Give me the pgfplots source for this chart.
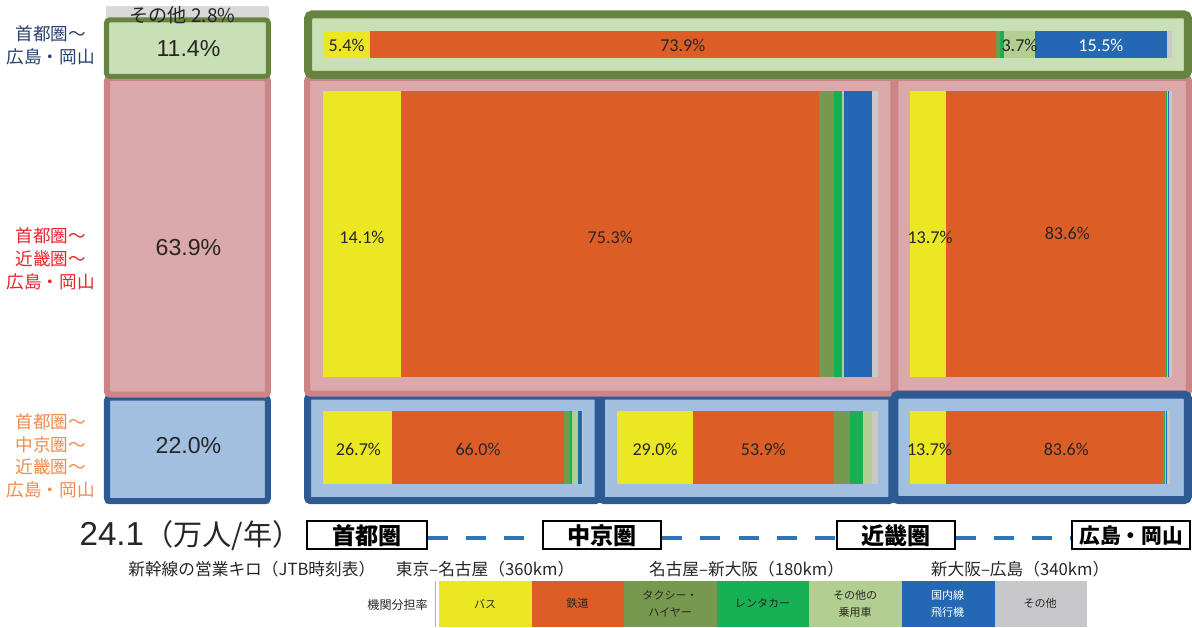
\documentclass[border=0pt]{standalone}
\usepackage{pgfplots}
\pgfplotsset{compat=1.18}
\usepackage{fontspec}
\setmainfont{Liberation Sans}
\newfontfamily\cjk{Noto Sans CJK JP}
\newfontfamily\carl{Carlito}
\definecolor{cbus}{HTML}{EBE823}
\definecolor{crail}{HTML}{DD5D26}
\definecolor{ctaxi}{HTML}{77994F}
\definecolor{crent}{HTML}{18B054}
\definecolor{ccar}{HTML}{B2CF91}
\definecolor{cplane}{HTML}{2467B2}
\definecolor{cother}{HTML}{C8C8CA}
\definecolor{gfill}{HTML}{C9E0B6}
\definecolor{gline}{HTML}{66843F}
\definecolor{pfill}{HTML}{DBA8AB}
\definecolor{pline}{HTML}{CC8487}
\definecolor{bfill}{HTML}{A3BFDF}
\definecolor{bline}{HTML}{2E5A94}
\definecolor{lgray}{HTML}{D9D9DB}
\definecolor{dashc}{HTML}{2E75B6}
\definecolor{navy}{HTML}{26406E}
\definecolor{lred}{HTML}{E8232A}
\definecolor{lorange}{HTML}{F08A4B}
\definecolor{txt}{HTML}{262626}
\pgfplotsset{
  canvas/.style={hide axis, scale only axis, width=596pt, height=314.5pt,
    xmin=0, xmax=1192, ymin=0, ymax=629, y dir=reverse, clip=false,
    at={(0,0)}, anchor=south west},
  bars/.style={hide axis, scale only axis, xmin=0, xmax=100, ymin=0, ymax=1,
    xbar stacked, bar width=1, clip=false, anchor=south west},
}
\newcommand{\pl}{\fontsize{9}{10}\selectfont\carl}
\begin{document}
\begin{tikzpicture}
% ---------- background frames ----------
\begin{axis}[canvas]
\draw[bline, fill=bfill, line width=3.5pt, rounded corners=1.5pt] (axis cs:308.5,399.5) rectangle (axis cs:597.5,503.5);
\draw[bline, fill=bfill, line width=3.5pt, rounded corners=1.5pt] (axis cs:600.5,399.5) rectangle (axis cs:889.5,503.5);
\draw[pline, fill=pfill, line width=3pt, rounded corners=1.5pt] (axis cs:308,83) rectangle (axis cs:891,397);
\draw[pline, fill=pfill, line width=3pt, rounded corners=1.5pt] (axis cs:893,83) rectangle (axis cs:1185,397);
\draw[bline, fill=bfill, line width=4pt, rounded corners=2pt] (axis cs:892,398) rectangle (axis cs:1184,503);
\draw[gline, fill=gfill, line width=4pt, rounded corners=2pt] (axis cs:309,20) rectangle (axis cs:1184,80);
\coordinate (L0) at (axis cs:108,507);
\coordinate (B1) at (axis cs:324.5,63);
\coordinate (B2) at (axis cs:323.5,381);
\coordinate (B3) at (axis cs:908,381);
\coordinate (B4) at (axis cs:324,487);
\coordinate (B5) at (axis cs:616.5,487);
\coordinate (B6) at (axis cs:908,487);
\coordinate (LG) at (axis cs:439,629);
\end{axis}
% ---------- left column: share of flows ----------
\begin{axis}[hide axis, scale only axis, at={(L0)}, anchor=south west, width=81pt, height=247.5pt,
  xmin=-0.5, xmax=0.5, ymin=0, ymax=100.1, ybar stacked, bar width=1, clip=false]
\addplot[fill=bfill, draw=none] coordinates {(0,22.0)};
\addplot[fill=pfill, draw=none] coordinates {(0,63.9)};
\addplot[fill=gfill, draw=none] coordinates {(0,11.4)};
\addplot[fill=lgray, draw=none] coordinates {(0,2.8)};
\end{axis}
% ---------- bar 1: 首都圏～広島・岡山 ----------
\begin{axis}[bars, at={(B1)}, width=421.65pt, height=13.5pt]
\addplot[fill=cbus, draw=none] coordinates {(5.4,0.5)};
\addplot[fill=crail, draw=none] coordinates {(73.9,0.5)};
\addplot[fill=ctaxi, draw=none] coordinates {(0.5,0.5)};
\addplot[fill=crent, draw=none] coordinates {(0.4,0.5)};
\addplot[fill=ccar, draw=none] coordinates {(3.7,0.5)};
\addplot[fill=cplane, draw=none] coordinates {(15.5,0.5)};
\addplot[fill=cother, draw=none] coordinates {(0.6,0.5)};
\end{axis}
% ---------- bar 2: 首都圏～近畿圏 ----------
\begin{axis}[bars, at={(B2)}, width=276.25pt, height=142.5pt]
\addplot[fill=cbus, draw=none] coordinates {(14.1,0.5)};
\addplot[fill=crail, draw=none] coordinates {(75.3,0.5)};
\addplot[fill=ctaxi, draw=none] coordinates {(2.7,0.5)};
\addplot[fill=crent, draw=none] coordinates {(1.3,0.5)};
\addplot[fill=ccar, draw=none] coordinates {(0.5,0.5)};
\addplot[fill=cplane, draw=none] coordinates {(4.9,0.5)};
\addplot[fill=cother, draw=none] coordinates {(1.2,0.5)};
\end{axis}
% ---------- bar 3: 近畿圏～広島・岡山 (pink) ----------
\begin{axis}[bars, at={(B3)}, width=130pt, height=142.5pt]
\addplot[fill=cbus, draw=none] coordinates {(13.7,0.5)};
\addplot[fill=crail, draw=none] coordinates {(83.6,0.5)};
\addplot[fill=ctaxi, draw=none] coordinates {(0.3,0.5)};
\addplot[fill=crent, draw=none] coordinates {(0.7,0.5)};
\addplot[fill=ccar, draw=none] coordinates {(0.2,0.5)};
\addplot[fill=cplane, draw=none] coordinates {(0.4,0.5)};
\addplot[fill=cother, draw=none] coordinates {(1.1,0.5)};
\end{axis}
% ---------- bar 4: 首都圏～中京圏 ----------
\begin{axis}[bars, at={(B4)}, width=129pt, height=36.5pt]
\addplot[fill=cbus, draw=none] coordinates {(26.7,0.5)};
\addplot[fill=crail, draw=none] coordinates {(66.0,0.5)};
\addplot[fill=ctaxi, draw=none] coordinates {(2.4,0.5)};
\addplot[fill=crent, draw=none] coordinates {(0.8,0.5)};
\addplot[fill=ccar, draw=none] coordinates {(2.3,0.5)};
\addplot[fill=cplane, draw=none] coordinates {(1.5,0.5)};
\addplot[fill=cother, draw=none] coordinates {(0.3,0.5)};
\end{axis}
% ---------- bar 5: 中京圏～近畿圏 ----------
\begin{axis}[bars, at={(B5)}, width=129.75pt, height=36.5pt]
\addplot[fill=cbus, draw=none] coordinates {(29.0,0.5)};
\addplot[fill=crail, draw=none] coordinates {(53.9,0.5)};
\addplot[fill=ctaxi, draw=none] coordinates {(6.1,0.5)};
\addplot[fill=crent, draw=none] coordinates {(5.3,0.5)};
\addplot[fill=ccar, draw=none] coordinates {(3.4,0.5)};
\addplot[fill=cplane, draw=none] coordinates {(0.0,0.5)};
\addplot[fill=cother, draw=none] coordinates {(2.3,0.5)};
\end{axis}
% ---------- bar 6: 近畿圏～広島・岡山 (blue) ----------
\begin{axis}[bars, at={(B6)}, width=129pt, height=36.5pt]
\addplot[fill=cbus, draw=none] coordinates {(13.7,0.5)};
\addplot[fill=crail, draw=none] coordinates {(83.6,0.5)};
\addplot[fill=ctaxi, draw=none] coordinates {(0.3,0.5)};
\addplot[fill=crent, draw=none] coordinates {(0.7,0.5)};
\addplot[fill=ccar, draw=none] coordinates {(0.2,0.5)};
\addplot[fill=cplane, draw=none] coordinates {(0.4,0.5)};
\addplot[fill=cother, draw=none] coordinates {(1.1,0.5)};
\end{axis}
% ---------- legend colour bar ----------
\begin{axis}[bars, at={(LG)}, width=322.5pt, height=23pt, xmax=7]
\addplot[fill=cbus, draw=none] coordinates {(1,0.5)};
\addplot[fill=crail, draw=none] coordinates {(1,0.5)};
\addplot[fill=ctaxi, draw=none] coordinates {(1,0.5)};
\addplot[fill=crent, draw=none] coordinates {(1,0.5)};
\addplot[fill=ccar, draw=none] coordinates {(1,0.5)};
\addplot[fill=cplane, draw=none] coordinates {(1,0.5)};
\addplot[fill=cother, draw=none] coordinates {(1,0.5)};
\end{axis}
% ---------- overlay: frames of left column and all texts ----------
\begin{axis}[canvas]
\draw[bline, line width=3pt, rounded corners=1.5pt] (axis cs:109,401) rectangle (axis cs:269,504);
\draw[pline, line width=3pt, rounded corners=1.5pt] (axis cs:109,83) rectangle (axis cs:269,398);
\draw[gline, line width=2.5pt, rounded corners=1.5pt] (axis cs:108.5,25.5) rectangle (axis cs:269.5,81.5);
\node[font=\cjk\fontsize{9.5}{10}\selectfont, text=txt] at (axis cs:184,21) {その他 2.8\%};
\node[font=\fontsize{11.5}{12}\selectfont, text=txt] at (axis cs:190,54) {11.4\%};
\node[font=\fontsize{11.5}{12}\selectfont, text=txt] at (axis cs:190,252) {63.9\%};
\node[font=\fontsize{11.5}{12}\selectfont, text=txt] at (axis cs:190,449) {22.0\%};
\node[align=center, font=\cjk\fontsize{8.75}{11.25}\selectfont, text=navy] at (axis cs:53,51) {首都圏～\\広島・岡山};
\node[align=center, font=\cjk\fontsize{8.75}{11.25}\selectfont, text=lred] at (axis cs:53,263) {首都圏～\\近畿圏～\\広島・岡山};
\node[align=center, font=\cjk\fontsize{8.75}{11.25}\selectfont, text=lorange] at (axis cs:53,459) {首都圏～\\中京圏～\\近畿圏～\\広島・岡山};
% bar value labels
\node[font=\pl, text=txt] at (axis cs:347.3,51) {5.4\%};
\node[font=\pl, text=txt] at (axis cs:681.6,51) {73.9\%};
\node[font=\pl, text=txt] at (axis cs:1016.4,51) {3.7\%};
\node[font=\pl, text=white] at (axis cs:1097.4,51) {15.5\%};
\node[font=\pl, text=txt] at (axis cs:362.5,242) {14.1\%};
\node[font=\pl, text=txt] at (axis cs:609.4,242) {75.3\%};
\node[font=\pl, text=txt] at (axis cs:927.5,242) {13.7\%};
\node[font=\pl, text=txt] at (axis cs:1064,238) {83.6\%};
\node[font=\pl, text=txt] at (axis cs:359,453) {26.7\%};
\node[font=\pl, text=txt] at (axis cs:478,453) {66.0\%};
\node[font=\pl, text=txt] at (axis cs:654,453) {29.0\%};
\node[font=\pl, text=txt] at (axis cs:761.7,453) {53.9\%};
\node[font=\pl, text=txt] at (axis cs:927,453) {13.7\%};
\node[font=\pl, text=txt] at (axis cs:1063,453) {83.6\%};
% route
\node[text=txt] at (axis cs:192,538) {\fontsize{16.5}{18}\selectfont 24.1{\cjk\fontsize{14.5}{18}\selectfont （万人/年）}};
\draw[dashc, line width=2pt, dash pattern=on 10pt off 9pt] (axis cs:428,541) -- (axis cs:543,541);
\draw[dashc, line width=2pt, dash pattern=on 10pt off 9pt] (axis cs:661,541) -- (axis cs:835,541);
\draw[dashc, line width=2pt, dash pattern=on 10pt off 9pt] (axis cs:953,541) -- (axis cs:1069,541);
\draw[black, line width=1pt] (axis cs:308,524) rectangle (axis cs:427,552);
\draw[black, line width=1pt] (axis cs:543,524) rectangle (axis cs:660,552);
\draw[black, line width=1pt] (axis cs:835,524) rectangle (axis cs:952,552);
\draw[black, line width=1pt] (axis cs:1069,524) rectangle (axis cs:1186,552);
\node[font=\cjk\bfseries\fontsize{11.5}{12}\selectfont] at (axis cs:367.5,538) {首都圏};
\node[font=\cjk\bfseries\fontsize{11.5}{12}\selectfont] at (axis cs:601.5,538) {中京圏};
\node[font=\cjk\bfseries\fontsize{11.5}{12}\selectfont] at (axis cs:893.5,538) {近畿圏};
\node[font=\cjk\bfseries\fontsize{10.3}{12}\selectfont] at (axis cs:1127.5,538) {広島・岡山};
\node[font=\cjk\fontsize{8.3}{10}\selectfont, text=txt] at (axis cs:253,572) {新幹線の営業キロ（JTB時刻表）};
\node[font=\cjk\fontsize{8.3}{10}\selectfont, text=txt] at (axis cs:485,572) {東京–名古屋（360km）};
\node[font=\cjk\fontsize{8.3}{10}\selectfont, text=txt] at (axis cs:745,572) {名古屋–新大阪（180km）};
\node[font=\cjk\fontsize{8.3}{10}\selectfont, text=txt] at (axis cs:1017,572) {新大阪–広島（340km）};
% legend texts
\draw[gray!60, line width=0.4pt] (axis cs:436,583) -- (axis cs:436,629);
\node[font=\cjk\fontsize{6}{7}\selectfont, text=txt] at (axis cs:398,607) {機関分担率};
\node[align=center, font=\cjk\fontsize{5.5}{8.5}\selectfont, text=txt] at (axis cs:485,606) {バス};
\node[align=center, font=\cjk\fontsize{5.5}{8.5}\selectfont, text=txt] at (axis cs:577,606) {鉄道};
\node[align=center, font=\cjk\fontsize{5.5}{8.5}\selectfont, text=txt] at (axis cs:669,606) {タクシー・\\ハイヤー};
\node[align=center, font=\cjk\fontsize{5.5}{8.5}\selectfont, text=txt] at (axis cs:761,606) {レンタカー};
\node[align=center, font=\cjk\fontsize{5.5}{8.5}\selectfont, text=txt] at (axis cs:853,606) {その他の\\乗用車};
\node[align=center, font=\cjk\fontsize{5.5}{8.5}\selectfont, text=white] at (axis cs:945,606) {国内線\\飛行機};
\node[align=center, font=\cjk\fontsize{5.5}{8.5}\selectfont, text=txt] at (axis cs:1037,606) {その他};
\end{axis}
\end{tikzpicture}
\end{document}
